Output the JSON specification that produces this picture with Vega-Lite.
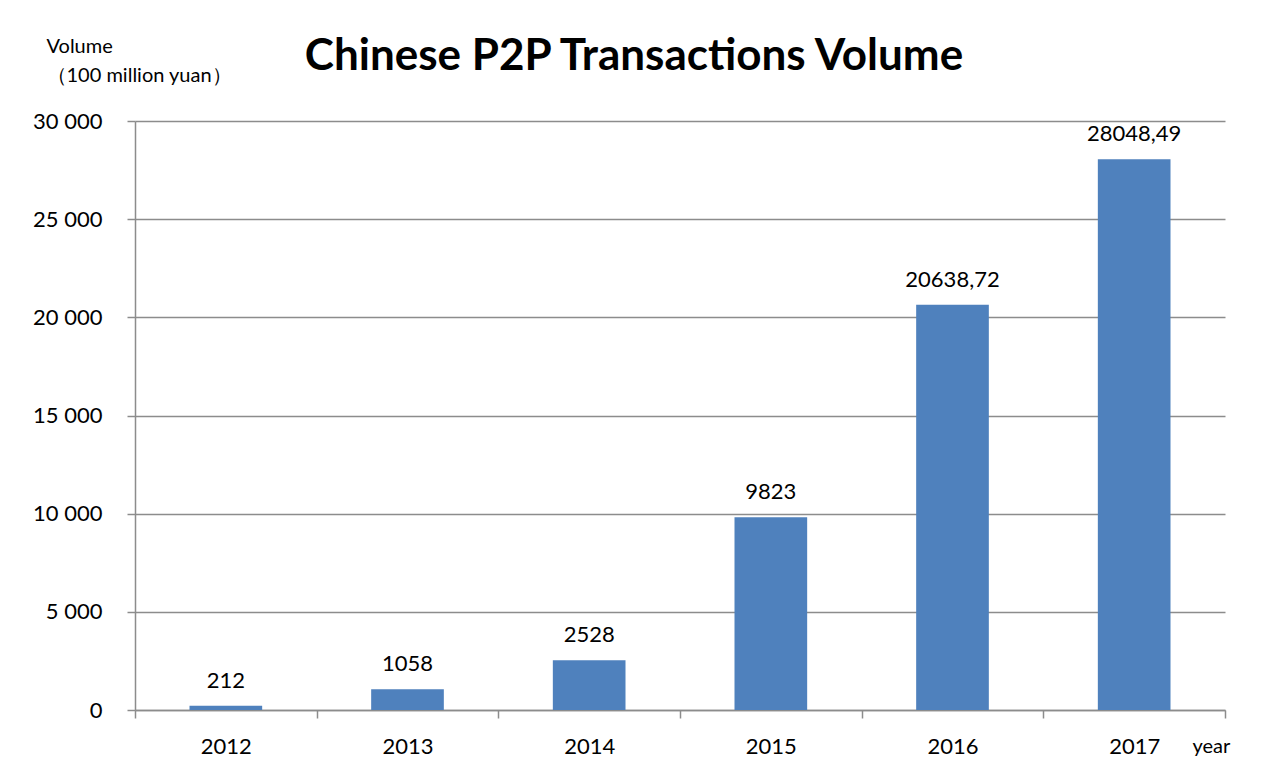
{
  "$schema": "https://vega.github.io/schema/vega-lite/v6.json",
  "width": 1090,
  "height": 589,
  "autosize": "none",
  "padding": {"left": 135, "top": 121, "right": 36, "bottom": 61},
  "background": "white",
  "config": {
    "font": "Lato",
    "view": {"stroke": null}
  },
  "title": {
    "text": "Chinese P2P Transactions Volume",
    "font": "Lato",
    "fontSize": 44,
    "fontWeight": "bold",
    "color": "black",
    "anchor": "middle",
    "baseline": "alphabetic",
    "frame": "group",
    "dx": -46,
    "dy": 78,
    "offset": 0
  },
  "data": {
    "values": [
      {"year": "2012", "volume": 212, "label": "212"},
      {"year": "2013", "volume": 1058, "label": "1058"},
      {"year": "2014", "volume": 2528, "label": "2528"},
      {"year": "2015", "volume": 9823, "label": "9823"},
      {"year": "2016", "volume": 20638.72, "label": "20638,72"},
      {"year": "2017", "volume": 28048.49, "label": "28048,49"}
    ]
  },
  "encoding": {
    "x": {
      "field": "year",
      "type": "ordinal",
      "scale": {"paddingInner": 0, "paddingOuter": 0},
      "axis": {
        "title": "year",
        "titleFont": "Lato",
        "titleFontSize": 20,
        "titleFontWeight": "normal",
        "titleColor": "black",
        "titleAnchor": "start",
        "titleAlign": "left",
        "titleBaseline": "alphabetic",
        "titleX": 1057,
        "titleY": 42,
        "labelAngle": 0,
        "labelFontSize": 22,
        "labelColor": "black",
        "labelBaseline": "alphabetic",
        "labelPadding": 35,
        "tickBand": "extent",
        "tickSize": 8,
        "tickColor": "#8c8c8c",
        "tickWidth": 1.5,
        "domainColor": "#8c8c8c",
        "domainWidth": 1.5,
        "grid": false
      }
    },
    "y": {
      "field": "volume",
      "type": "quantitative",
      "scale": {"domain": [0, 30000], "nice": false},
      "axis": {
        "values": [0, 5000, 10000, 15000, 20000, 25000, 30000],
        "labelExpr": "replace(format(datum.value, ','), ',', ' ')",
        "labelFontSize": 22,
        "labelColor": "black",
        "labelPadding": 25,
        "labelBaseline": "middle",
        "tickSize": 8,
        "tickColor": "#8c8c8c",
        "tickWidth": 1.5,
        "domainColor": "#8c8c8c",
        "domainWidth": 1.5,
        "grid": true,
        "gridColor": "#8c8c8c",
        "gridWidth": 1.5,
        "title": ["Volume", "（100 million yuan）"],
        "titleFont": "Lato",
        "titleFontSize": 20,
        "titleFontWeight": "normal",
        "titleColor": "black",
        "titleAngle": 0,
        "titleAlign": "left",
        "titleBaseline": "alphabetic",
        "titleLineHeight": 29,
        "titleX": -89,
        "titleY": -69
      }
    }
  },
  "layer": [
    {"mark": {"type": "bar", "color": "#4F81BD", "width": {"band": 0.4}}},
    {
      "mark": {"type": "text", "fontSize": 22, "color": "black", "baseline": "alphabetic", "dy": -18},
      "encoding": {"text": {"field": "label"}}
    }
  ]
}
